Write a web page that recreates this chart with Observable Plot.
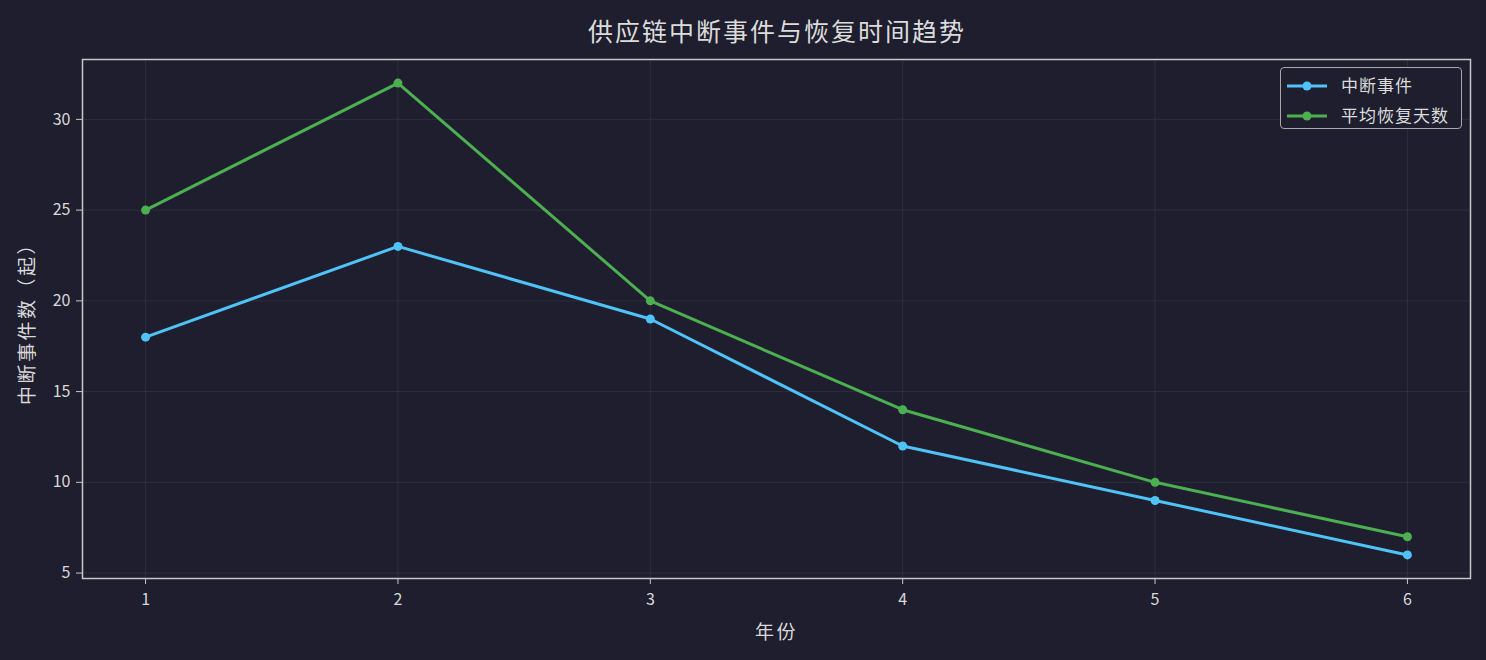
<!DOCTYPE html>
<html><head><meta charset="utf-8">
<script src="https://cdn.jsdelivr.net/npm/d3@7"></script>
<script src="https://cdn.jsdelivr.net/npm/@observablehq/plot@0.6"></script>
<style>
html,body{margin:0;padding:0;background:#1e1e2e;}
body{width:1486px;height:660px;overflow:hidden;position:relative;font-family:"Noto Sans CJK SC","DejaVu Sans",sans-serif;color:#d8d8d8;}
#title{position:absolute;left:82px;top:0;width:1388px;height:50px;line-height:60px;text-align:center;font-size:25px;color:#dcdcdc;letter-spacing:2px;text-indent:2px;}
#chart{position:absolute;left:0;top:50px;}
#legend{position:absolute;left:1280px;top:67px;width:182px;height:62px;border:1.5px solid #a8a8a8;border-radius:4px;background:#1e1e2e;box-sizing:border-box;}
#legend .row{position:absolute;left:0;height:20px;font-size:17px;color:#dcdcdc;}
#legend svg{position:absolute;left:5px;top:0;}
#legend span{position:absolute;left:60px;top:-4px;white-space:nowrap;letter-spacing:1px;}
</style></head>
<body>
<div id="title">供应链中断事件与恢复时间趋势</div>
<div id="chart"></div>
<div id="legend"></div>
<script>
const years = [1, 2, 3, 4, 5, 6];
const disruptions = [18, 23, 19, 12, 9, 6];
const recoveryDays = [25, 32, 20, 14, 10, 7];
const seriesNames = ["中断事件", "平均恢复天数"];
const seriesColors = ["#4fc3f7", "#4caf50"];
const yTicks = [5, 10, 15, 20, 25, 30];

const data = [];
years.forEach((yr, i) => {
  data.push({year: yr, value: disruptions[i], series: seriesNames[0]});
  data.push({year: yr, value: recoveryDays[i], series: seriesNames[1]});
});

const textColor = "#d8d8d8";
const chart = Plot.plot({
  width: 1486,
  height: 610,
  marginLeft: 82,
  marginRight: 16,
  marginTop: 9,
  marginBottom: 82,
  style: {background: "#1e1e2e", color: textColor, fontFamily: "'Noto Sans CJK SC','DejaVu Sans',sans-serif", fontSize: "16px"},
  x: {domain: [0.75, 6.25], ticks: years, tickFormat: d => String(d)},
  y: {domain: [4.7, 33.3], ticks: yTicks},
  color: {domain: seriesNames, range: seriesColors},
  marks: [
    Plot.gridX(years, {stroke: "#ffffff", strokeOpacity: 0.07}),
    Plot.gridY(yTicks, {stroke: "#ffffff", strokeOpacity: 0.07}),
    Plot.frame({stroke: "#c8c8c8", strokeWidth: 1.5}),
    Plot.axisX({ticks: years, tickSize: 6, tickPadding: 9, stroke: "#c8c8c8", label: "年份", labelAnchor: "center", labelArrow: "none", labelOffset: 60, tickFormat: d => String(d)}),
    Plot.axisY({ticks: yTicks, tickSize: 6, tickPadding: 6, stroke: "#c8c8c8", label: "中断事件数（起）", labelAnchor: "center", labelArrow: "none", labelOffset: 62}),
    Plot.line(data, {x: "year", y: "value", z: "series", stroke: "series", strokeWidth: 3}),
    Plot.dot(data, {x: "year", y: "value", fill: "series", r: 4.5})
  ]
});
chart.querySelectorAll("g[aria-label='x-axis tick label'] text, g[aria-label='y-axis tick label'] text").forEach(t => { t.style.fontSize = "16px"; });
chart.querySelectorAll("g[aria-label='x-axis label'] text, g[aria-label='y-axis label'] text").forEach(t => { t.style.fontSize = "19px"; t.style.letterSpacing = "2.5px"; });
document.getElementById("chart").appendChild(chart);

const legend = document.getElementById("legend");
seriesNames.forEach((name, i) => {
  const row = document.createElement("div");
  row.className = "row";
  row.style.top = (8 + i * 30) + "px";
  row.style.width = "178px";
  row.innerHTML = `<svg width="42" height="20"><line x1="1" y1="10" x2="41" y2="10" stroke="${seriesColors[i]}" stroke-width="3"/><circle cx="21" cy="10" r="4.5" fill="${seriesColors[i]}"/></svg><span>${name}</span>`;
  legend.appendChild(row);
});
</script>
</body></html>
